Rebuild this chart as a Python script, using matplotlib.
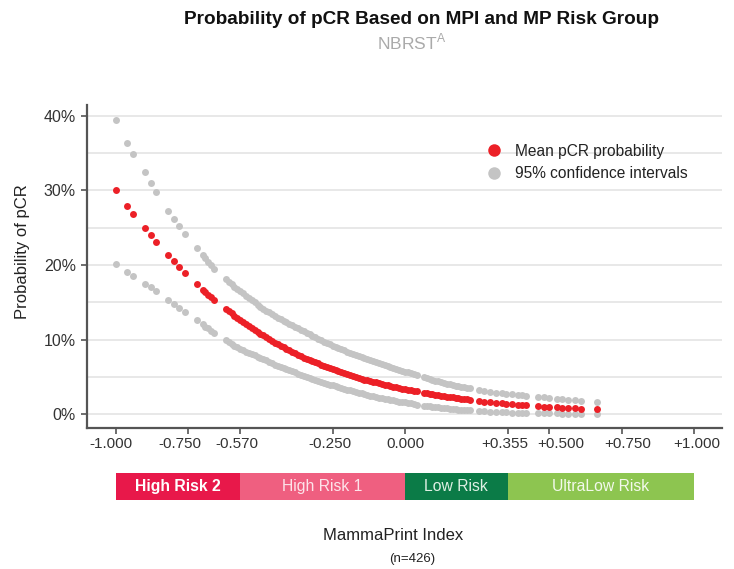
import matplotlib
matplotlib.use("Agg")
import matplotlib.pyplot as plt
import matplotlib.transforms as mtransforms
from matplotlib.lines import Line2D

plt.rcParams["font.family"] = ["Liberation Sans", "DejaVu Sans"]

# MammaPrint index of the patients
mpi = [
    -1.00, -0.96, -0.94, -0.90, -0.88, -0.86, -0.82, -0.80, -0.78, -0.76,
    -0.72, -0.70, -0.69, -0.68, -0.67, -0.66, -0.62, -0.61, -0.60, -0.59,
    -0.58, -0.57, -0.56, -0.55, -0.54, -0.53, -0.52, -0.51, -0.50, -0.49,
    -0.48, -0.47, -0.46, -0.45, -0.44, -0.43, -0.42, -0.41, -0.40, -0.39,
    -0.38, -0.37, -0.36, -0.35, -0.34, -0.33, -0.32, -0.31, -0.30, -0.29,
    -0.28, -0.27, -0.26, -0.25, -0.24, -0.23, -0.22, -0.21, -0.20, -0.19,
    -0.18, -0.17, -0.16, -0.15, -0.14, -0.13, -0.12, -0.11, -0.10, -0.09,
    -0.08, -0.07, -0.06, -0.05, -0.04, -0.03, -0.02, -0.01, 0.00, 0.01,
    0.02, 0.03, 0.04, 0.065, 0.075, 0.085, 0.095, 0.105, 0.115, 0.125,
    0.135, 0.145, 0.155, 0.165, 0.175, 0.185, 0.195, 0.205, 0.215, 0.225,
    0.255, 0.275, 0.295, 0.315, 0.335, 0.35, 0.37, 0.39, 0.405, 0.42,
    0.46, 0.48, 0.50, 0.525, 0.545, 0.565, 0.59, 0.61, 0.665,
]

# pCR probability in percent
mean_pcr = [
    30.0, 27.9, 26.9, 25.0, 24.0, 23.1, 21.4, 20.5, 19.7, 18.9,
    17.4, 16.7, 16.35, 16.0, 15.65, 15.35, 14.1, 13.8, 13.5, 13.2,
    12.9, 12.6, 12.35, 12.05, 11.8, 11.55, 11.3, 11.05, 10.8, 10.55,
    10.3, 10.05, 9.85, 9.6, 9.4, 9.2, 9.0, 8.8, 8.6, 8.4,
    8.2, 8.0, 7.8, 7.6, 7.45, 7.25, 7.1, 6.95, 6.8, 6.65,
    6.5, 6.35, 6.2, 6.05, 5.9, 5.75, 5.6, 5.5, 5.35, 5.22,
    5.1, 5.0, 4.9, 4.77, 4.65, 4.55, 4.45, 4.35, 4.25, 4.15,
    4.05, 3.95, 3.85, 3.77, 3.7, 3.6, 3.5, 3.42, 3.35, 3.27,
    3.2, 3.12, 3.05, 2.9, 2.82, 2.75, 2.67, 2.6, 2.55, 2.5,
    2.42, 2.35, 2.3, 2.25, 2.2, 2.15, 2.1, 2.05, 2.0, 1.95,
    1.8, 1.7, 1.62, 1.55, 1.47, 1.42, 1.35, 1.28, 1.23, 1.18,
    1.06, 1.01, 0.96, 0.91, 0.87, 0.83, 0.79, 0.75, 0.65,
]

upper_ci = [
    39.5, 36.3, 34.9, 32.5, 31.0, 29.8, 27.2, 26.2, 25.2, 24.2,
    22.3, 21.4, 20.9, 20.4, 19.95, 19.5, 18.1, 17.75, 17.4, 17.1,
    16.8, 16.5, 16.2, 15.9, 15.6, 15.3, 15.0, 14.7, 14.4, 14.15,
    13.9, 13.65, 13.4, 13.15, 12.9, 12.7, 12.5, 12.3, 12.1, 11.9,
    11.7, 11.5, 11.3, 11.1, 10.9, 10.7, 10.5, 10.3, 10.1, 9.9,
    9.7, 9.5, 9.35, 9.2, 9.0, 8.85, 8.7, 8.55, 8.4, 8.25,
    8.1, 7.95, 7.8, 7.65, 7.5, 7.35, 7.2, 7.08, 6.95, 6.82,
    6.7, 6.57, 6.45, 6.32, 6.2, 6.07, 5.95, 5.82, 5.7, 5.6,
    5.5, 5.37, 5.25, 5.0, 4.87, 4.75, 4.62, 4.5, 4.4, 4.3,
    4.2, 4.1, 4.0, 3.9, 3.82, 3.75, 3.67, 3.6, 3.52, 3.45,
    3.25, 3.1, 3.0, 2.9, 2.8, 2.72, 2.65, 2.57, 2.52, 2.47,
    2.35, 2.28, 2.2, 2.1, 2.03, 1.97, 1.87, 1.8, 1.58,
]

lower_ci = [
    20.1, 19.0, 18.5, 17.5, 17.0, 16.45, 15.35, 14.8, 14.25, 13.7,
    12.6, 12.05, 11.75, 11.5, 11.2, 10.95, 9.9, 9.65, 9.4, 9.2,
    9.0, 8.8, 8.6, 8.4, 8.25, 8.05, 7.9, 7.7, 7.55, 7.35,
    7.2, 7.0, 6.85, 6.65, 6.5, 6.35, 6.2, 6.05, 5.9, 5.75,
    5.6, 5.45, 5.3, 5.15, 5.0, 4.85, 4.75, 4.6, 4.45, 4.3,
    4.2, 4.05, 3.95, 3.85, 3.75, 3.6, 3.5, 3.4, 3.3, 3.2,
    3.1, 3.0, 2.9, 2.8, 2.7, 2.6, 2.5, 2.4, 2.3, 2.22,
    2.15, 2.07, 2.0, 1.92, 1.85, 1.77, 1.7, 1.65, 1.6, 1.52,
    1.45, 1.37, 1.3, 1.15, 1.1, 1.05, 1.0, 0.95, 0.9, 0.86,
    0.82, 0.78, 0.74, 0.7, 0.66, 0.63, 0.6, 0.56, 0.53, 0.5,
    0.42, 0.37, 0.33, 0.29, 0.26, 0.24, 0.21, 0.19, 0.17, 0.16,
    0.13, 0.12, 0.11, 0.10, 0.09, 0.08, 0.07, 0.065, 0.05,
]

x_ticks = [-1.0, -0.75, -0.57, -0.25, 0.0, 0.355, 0.5, 0.75, 1.0]
x_tick_labels = ["-1.000", "-0.750", "-0.570", "-0.250", "0.000",
                 "+0.355", "+0.500", "+0.750", "+1.000"]
y_ticks = [0, 10, 20, 30, 40]
y_tick_labels = ["0%", "10%", "20%", "30%", "40%"]

risk_groups = ["High Risk 2", "High Risk 1", "Low Risk", "UltraLow Risk"]
risk_edges = [-1.0, -0.57, 0.0, 0.355, 1.0]
risk_colors = ["#e8184a", "#ef5f80", "#0b7b47", "#8dc550"]
risk_text_colors = ["white", "#fde4ea", "#dff0e4", "#f3f9ec"]
risk_weights = ["bold", "normal", "normal", "normal"]

RED = "#ec2027"
GRAY = "#c4c4c4"
XLIM = (-1.1, 1.097)
# small horizontal nudges (pixels) of the x tick labels, as in the original
LABEL_NUDGE = [-5, -8, -3, -3, 0, -3, 11, 6, 3]


def main() -> None:
    assert len(mpi) == len(mean_pcr) == len(upper_ci) == len(lower_ci)

    fig = plt.figure(figsize=(7.34, 5.69), dpi=100)
    ax = fig.add_axes([0.1185, 0.2478, 0.8652, 0.5677])

    for y in range(0, 45, 5):
        ax.axhline(y, color="#e4e4e4", lw=1.2, zorder=0)

    dot = dict(marker="o", linestyle="none", markersize=5.0, markeredgewidth=0)
    ax.plot(mpi, upper_ci, color=GRAY, zorder=2, **dot)
    ax.plot(mpi, lower_ci, color=GRAY, zorder=2, **dot)
    ax.plot(mpi, mean_pcr, color=RED, zorder=3, **dot)

    ax.set_xlim(*XLIM)
    ax.set_ylim(-1.85, 41.45)
    ax.set_xticks(x_ticks)
    ax.set_xticklabels([])
    # tick labels drawn by hand so they can be nudged like the original
    for xv, text, dx in zip(x_ticks, x_tick_labels, LABEL_NUDGE):
        tr = mtransforms.offset_copy(ax.get_xaxis_transform(), fig=fig,
                                     x=dx, y=-9, units="dots")
        ax.text(xv, 0, text, transform=tr, ha="center", va="top",
                fontsize=11, color="#333333")
    ax.set_yticks(y_ticks)
    ax.set_yticklabels(y_tick_labels, fontsize=11.5, color="#333333")
    ax.tick_params(length=4, width=1.2, color="#555555", pad=4)
    ax.set_ylabel("Probability of pCR", fontsize=12, color="#222222")
    ax.yaxis.set_label_coords(-0.09, 0.545)

    for side in ("top", "right"):
        ax.spines[side].set_visible(False)
    for side in ("left", "bottom"):
        ax.spines[side].set_color("#555555")
        ax.spines[side].set_linewidth(1.6)

    handles = [
        Line2D([], [], marker="o", linestyle="none", color=RED,
               markersize=9, markeredgewidth=0, label="Mean pCR probability"),
        Line2D([], [], marker="o", linestyle="none", color=GRAY,
               markersize=9, markeredgewidth=0, label="95% confidence intervals"),
    ]
    ax.legend(handles=handles, loc="upper left", bbox_to_anchor=(0.606, 0.90),
              frameon=False, fontsize=11.2, handletextpad=0.35, labelspacing=0.5,
              borderaxespad=0.0, labelcolor="#222222")

    # risk group band under the axis
    band = fig.add_axes([0.1185, 0.1213, 0.8652, 0.0475])
    for name, lo, hi, c, tc, w in zip(risk_groups, risk_edges[:-1], risk_edges[1:],
                                      risk_colors, risk_text_colors, risk_weights):
        band.barh(0, hi - lo, left=lo, height=1, color=c, edgecolor="none")
        band.text((lo + hi) / 2, 0, name, ha="center", va="center",
                  fontsize=11.3, color=tc, fontweight=w)
    band.set_xlim(*XLIM)
    band.set_ylim(-0.5, 0.5)
    band.axis("off")

    fig.text(0.574, 0.966, "Probability of pCR Based on MPI and MP Risk Group",
             ha="center", va="center", fontsize=13.7, fontweight="bold", color="#111111")
    fig.text(0.561, 0.926, r"NBRST$^{\mathregular{A}}$", ha="center", va="center",
             fontsize=12.5, color="#aaaaaa")
    fig.text(0.536, 0.058, "MammaPrint Index", ha="center", va="center",
             fontsize=12, color="#222222")
    fig.text(0.561, 0.017, "(n=426)", ha="center", va="center",
             fontsize=9.5, color="#222222")

    fig.savefig("out.png", dpi=100)


if __name__ == "__main__":
    main()
